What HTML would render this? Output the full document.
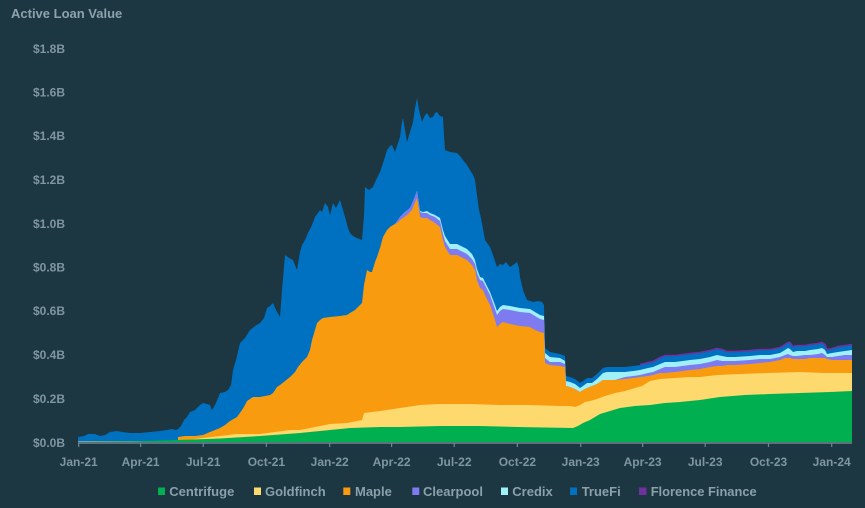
<!DOCTYPE html>
<html><head><meta charset="utf-8"><style>
html,body{margin:0;padding:0;background:#1c3642;}
svg{display:block;}
text{font-family:"Liberation Sans",Arial,sans-serif;font-weight:bold;}
</style></head><body>
<svg width="865" height="508" viewBox="0 0 865 508" xmlns="http://www.w3.org/2000/svg">
<rect width="865" height="508" fill="#1c3642"/>
<text x="11" y="18" font-size="13" fill="#8ea2ac">Active Loan Value</text>
<g font-size="12" fill="#7f96a1" text-anchor="end">
<text x="65" y="53">$1.8B</text>
<text x="65" y="96.5">$1.6B</text>
<text x="65" y="140">$1.4B</text>
<text x="65" y="184">$1.2B</text>
<text x="65" y="228">$1.0B</text>
<text x="65" y="271.5">$0.8B</text>
<text x="65" y="315">$0.6B</text>
<text x="65" y="359">$0.4B</text>
<text x="65" y="403">$0.2B</text>
<text x="65" y="447">$0.0B</text>
</g>
<!-- TrueFi (cumulative top) -->
<polygon fill="#0070c0" points="78,442 78,437 84,436 88,434 95,434 100,436 105,435 110,432 117,431 122,432 130,433 140,433 150,432 160,431 167,430 172,429 176,430 178,429 181,426 184,420 187,417 190,412 195,410 200,405 203,403 207,404 210,405 212,410 215,405 218,398 220,393 225,392 228,390 231,385 233,370 236,360 240,343 245,338 250,330 255,326 260,323 264,318 267,308 270,306 273,303 276,310 280,317 282,290 285,255 289,258 293,260 297,270 300,252 302,245 305,240 308,233 312,225 315,217 320,210 322,212 325,203 328,207 330,215 333,203 336,208 340,200 343,210 345,217 348,228 350,233 353,236 357,238 362,240 364,215 365,187 369,190 373,187 376,180 380,172 384,160 387,150 390,146 392,145 395,152 398,143 400,137 402,122 403,118 405,130 407,142 410,132 413,122 415,108 417,98 419,110 422,122 425,115 427,113 430,118 433,117 435,113 437,112 440,116 443,117 444,135 445,150 450,152 457,153 460,156 463,160 467,165 470,170 473,175 475,180 477,195 479,210 481,218 485,240 490,247 493,255 497,267 500,264 503,265 506,262 510,267 513,265 517,262 519,268 520,277 523,290 527,300 530,301 533,302 538,301 542,302 544,305 545,348 550,352 560,354 565,356 566,376 570,377 575,379 580,383 583,381 587,378 592,378 597,374 600,371 603,368 607,367 615,367 625,367 633,366 640,365 648,363 653,362 660,358 665,356 675,356 690,354 700,353 710,351 717,349 722,350 727,352 735,352 750,351 760,350 770,350 780,348 785,345 788,343 790,343 793,347 797,346 805,346 810,345 818,344 822,343 825,345 827,350 832,349 838,347 845,346 852,345 852,442"/>
<!-- Florence Finance thin top -->
<polyline fill="none" stroke="#7030a0" stroke-width="1.6" points="640,364.5 648,362.5 653,361.5 660,357.5 665,355.5 675,355.5 690,353.5 700,352.5 710,350.5 717,348.5 722,349.5 727,351.5 735,351.5 750,350.5 760,349.5 770,349.5 780,347.5 785,344.5 788,342.5 790,342.5 793,346.5 797,345.5 805,345.5 810,344.5 818,343.5 822,342.5 825,344.5 827,349.5 832,348.5 838,346.5 845,345.5 852,344.5"/>
<!-- Credix -->
<polygon fill="#9ff0f7" points="395,442 395,224 400,217 405,212 410,208 414,199 417,191 419,204 420,211 423,212 427,211 430,213 435,215 440,218 443,230 445,236 450,244 457,244 463,247 467,249 472,254 475,260 477,269 480,277 483,278 485,282 490,292 495,305 497,311 500,307 503,305 510,306 520,308 530,309 535,312 540,315 544,316 545,353 550,357 560,358 565,361 566,381 570,382 575,384 580,388 583,386 587,383 592,383 597,379 600,376 603,373 607,372 615,372 625,372 633,371 640,370 648,368 653,367 660,364 665,362 675,362 690,360 700,359 710,357 717,355 722,356 727,357 735,357 750,356 760,355 770,355 780,353 785,350 788,348 790,349 793,352 797,351 805,351 810,350 818,349 822,348 825,350 827,354 832,353 838,352 845,351 852,350 852,442"/>
<!-- Clearpool -->
<polygon fill="#7e7af0" points="395,442 395,224 400,217 405,212 410,208 414,199 417,191 419,204 420,212 423,213 427,213 430,215 435,217 440,221 443,234 445,241 450,249 457,249 463,252 467,254 472,259 475,264 477,273 480,280 483,281 485,285 490,295 495,309 497,315 500,311 503,309 510,310 520,312 530,313 535,316 540,319 544,320 545,358 550,362 560,362 565,364 566,386 570,387 575,389 580,392 583,390 587,388 592,386 597,384 600,382 603,380 607,380 615,380 625,377 633,376 640,375 648,373 653,372 660,369 665,367 675,367 690,365 700,364 710,362 717,360 722,361 727,361 735,361 750,360 760,359 770,359 780,357 785,355 788,354 790,355 793,356 797,356 805,355 810,355 818,354 822,353 825,355 827,357 832,357 838,356 845,355 852,355 852,442"/>
<!-- Maple -->
<polygon fill="#f99b0e" points="178,442 178,437 185,436 195,436 203,435 210,432 215,430 220,428 225,425 230,421 237,417 242,410 245,405 247,401 250,399 253,397 260,397 265,396 270,395 273,393 277,387 280,385 285,381 290,377 295,372 298,367 302,362 307,357 310,350 312,340 315,330 317,323 320,320 323,318 330,317 340,316 347,315 350,313 355,310 360,305 362,303 364,285 367,270 370,272 372,272 375,262 377,257 380,248 383,237 387,230 390,227 393,225 397,223 400,220 403,218 407,215 410,212 412,210 414,205 416,200 417,198 419,210 420,217 423,218 427,218 430,220 435,223 440,227 443,240 445,247 450,255 457,255 463,258 467,260 472,265 475,270 477,280 480,288 483,290 485,295 490,305 495,320 497,327 500,324 503,322 510,324 520,326 530,327 535,330 540,332 544,333 545,363 550,365 560,366 565,367 566,386 570,387 575,389 580,392 583,390 587,388 592,386 597,384 600,382 603,380 607,380 615,380 625,379 633,378 640,377 648,376 653,375 660,373 665,373 675,372 690,370 700,369 710,367 717,366 722,366 727,365 735,365 750,364 760,363 770,362 780,360 785,358 788,358 790,358 793,359 797,359 805,359 810,358 818,358 822,358 825,358 827,359 832,360 838,360 845,360 852,360 852,442"/>
<!-- Goldfinch -->
<polygon fill="#fdd96e" points="78,442 78,441.5 178,441 203,438 237,434 260,434 290,430 300,430 330,424 347,423 362,420 364,413 380,411 400,408 420,405 440,404 470,404 500,405 530,405 560,406 570,406 575,407 580,405 585,402 590,401 597,399 605,396 615,393 625,391 635,388 642,386 650,381 660,379 675,378 690,377 700,377 717,375 740,374 767,373 800,372 825,373 852,373 852,442"/>
<!-- Centrifuge -->
<polygon fill="#00b050" points="78,442 130,441.5 178,440 220,438.5 260,436 300,433 330,430 350,428 380,427 400,427 440,426 480,426 517,427 573,428 578,426 583,423 590,420 595,417 600,414 610,411 620,408 635,406 650,405 665,403 680,402 700,400 720,397 745,395 770,394 800,393 830,392 852,391 852,442"/>
<!-- axis -->
<line x1="78" y1="443" x2="852" y2="443" stroke="#6f8792" stroke-width="1.5"/>
<g stroke="#6f8792" stroke-width="1.2">
<line x1="78.7" y1="443" x2="78.7" y2="447"/>
<line x1="140.6" y1="443" x2="140.6" y2="447"/>
<line x1="203.2" y1="443" x2="203.2" y2="447"/>
<line x1="266.4" y1="443" x2="266.4" y2="447"/>
<line x1="329.7" y1="443" x2="329.7" y2="447"/>
<line x1="391.6" y1="443" x2="391.6" y2="447"/>
<line x1="454.2" y1="443" x2="454.2" y2="447"/>
<line x1="517.4" y1="443" x2="517.4" y2="447"/>
<line x1="580.7" y1="443" x2="580.7" y2="447"/>
<line x1="642.6" y1="443" x2="642.6" y2="447"/>
<line x1="705.2" y1="443" x2="705.2" y2="447"/>
<line x1="768.5" y1="443" x2="768.5" y2="447"/>
<line x1="831.7" y1="443" x2="831.7" y2="447"/>
</g>
<g font-size="12" fill="#7f96a1" text-anchor="middle">
<text x="78.7" y="466">Jan-21</text>
<text x="140.6" y="466">Apr-21</text>
<text x="203.2" y="466">Jul-21</text>
<text x="266.4" y="466">Oct-21</text>
<text x="329.7" y="466">Jan-22</text>
<text x="391.6" y="466">Apr-22</text>
<text x="454.2" y="466">Jul-22</text>
<text x="517.4" y="466">Oct-22</text>
<text x="580.7" y="466">Jan-23</text>
<text x="642.6" y="466">Apr-23</text>
<text x="705.2" y="466">Jul-23</text>
<text x="768.5" y="466">Oct-23</text>
<text x="831.7" y="466">Jan-24</text>
</g>
<!-- legend -->
<g font-size="13" fill="#8aa0aa">
<rect x="158" y="487.5" width="7" height="7.5" fill="#00b050"/><text x="169.3" y="496">Centrifuge</text>
<rect x="254" y="487.5" width="7" height="7.5" fill="#fdd96e"/><text x="265" y="496">Goldfinch</text>
<rect x="343.3" y="487.5" width="7" height="7.5" fill="#f99b0e"/><text x="355" y="496">Maple</text>
<rect x="412.3" y="487.5" width="7" height="7.5" fill="#7e7af0"/><text x="423" y="496">Clearpool</text>
<rect x="501" y="487.5" width="7" height="7.5" fill="#9ff0f7"/><text x="512.3" y="496">Credix</text>
<rect x="570" y="487.5" width="7" height="7.5" fill="#0070c0"/><text x="581.7" y="496">TrueFi</text>
<rect x="639" y="487.5" width="7.5" height="7.5" fill="#7030a0"/><text x="650.7" y="496" textLength="106" lengthAdjust="spacingAndGlyphs">Florence Finance</text>
</g>
</svg>
</body></html>
